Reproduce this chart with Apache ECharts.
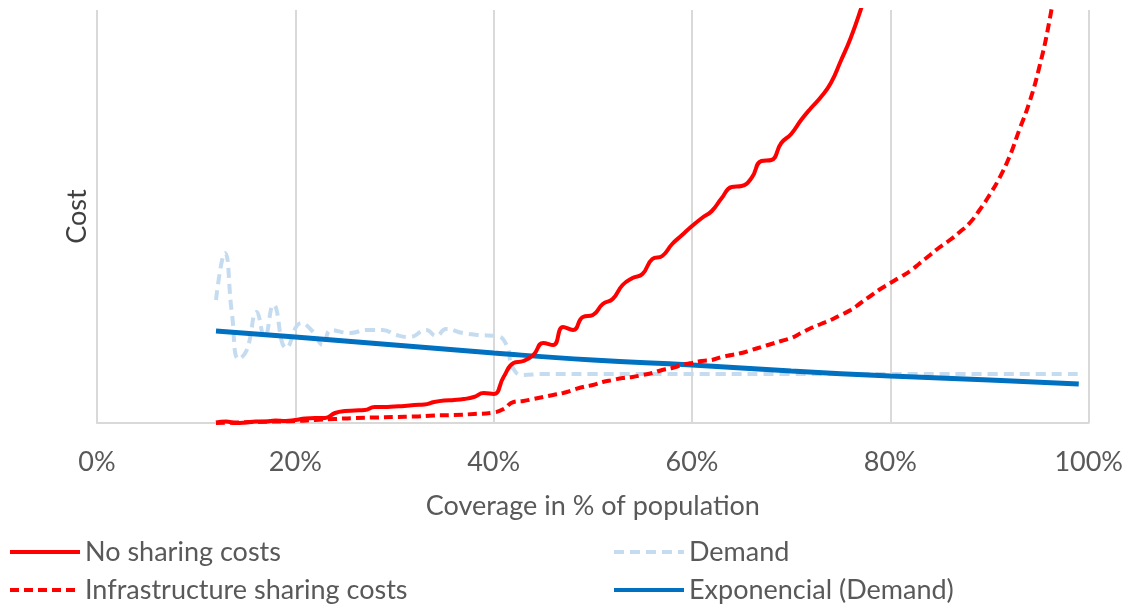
<!DOCTYPE html>
<html>
<head>
<meta charset="utf-8">
<script src="https://cdn.jsdelivr.net/npm/echarts@6/dist/echarts.min.js"></script>
<style>
html,body{margin:0;padding:0;background:#fff;}
#chart{width:1126px;height:604px;}
</style>
</head>
<body>
<div id="chart"></div>
<script>
// Coverage (% of population) and cost values (arbitrary units)
const xTicks = [0, 20, 40, 60, 80, 100];

const noSharingX = [12,13,14,15,16,17,18,19,20,21,22,23,24,25,26,27,28,29,30,31,32,33,34,35,36,37,38,39,40,41,42,43,44,45,46,47,48,49,50,51,52,53,54,55,56,57,58,59,60,61,62,63,64,65,66,67,68,69,70,71,72,73,74,75,76,77,78];
const noSharingY = [0.5,1.5,0,0.5,1.5,1.5,2.5,2,3,4.5,5,5,10,12,12.5,13,16,16,16.5,17,18,18.5,21,22.5,23,24,26,30,29,46,60,62,68,80,78,96,93,106,108,119,124,138,145,149,164,167,179,188,197,205,212,225,236,237,245,262,263,280,289,303,315,326,340,362,385,413,445];

const infraX = [12,14,16,18,20,22,24,26,28,30,32,34,36,38,40,41,42,43,44,45,46,47,48,49,50,51,52,53,54,55,56,57,58,59,60,61,62,63,64,65,66,67,68,69,70,71,72,73,74,75,76,77,78,79,80,81,82,83,84,85,86,87,88,89,90,91,92,93,94,95,96,97];
const infraY = [0,0.5,1,1.5,2,3,4,5,5.5,6,6.5,7.5,8,9,10.5,14,21,22,24,26,28,30,33,36,38,41,43,45,46,48,50,53,55,58,60,62,63,66,68,70,73,76,79,82,85,90,95,99,103,108,113,120,127,134,140,146,152,160,168,176,183,191,200,213,228,245,266,293,320,355,400,460];

const demandX = [12,12.9,13.6,14.3,15.1,16.1,16.9,17.8,19.1,20.6,21.7,22.8,23.6,25.5,27.2,28.8,30.2,31.5,33.2,34.2,35.2,36.9,38.5,40.3,41.3,41.9,42.9,45,50,60,70,80,90,99];
const demandY = [123,170,110,64,73,111,86,118,75,100,92,78,93,90,93,93,88,86,93,87,94,90,88,87,78,56,48,49,49,49,49,49,49,49];

const trendX = [12,20,30,40,50,60,70,80,90,99];
const trendY = [92,86,78,70,63,58,52,47,43,39];

const pairs = (xs, ys) => xs.map((x, i) => [x, ys[i]]);

const chart = echarts.init(document.getElementById('chart'));
const FONT = 'Lato';
const GRAY = '#595959';

const legendBase = {
  orient: 'vertical', top: 538, height: 80, padding: 0, itemWidth: 70, itemHeight: 14, itemGap: 10,
  textStyle: { fontFamily: FONT, fontSize: 27, color: GRAY, lineHeight: 28 },
  itemStyle: { color: 'rgba(0,0,0,0)', borderWidth: 0 },
  lineStyle: { width: 4 }
};

chart.setOption({
  animation: false,
  textStyle: { fontFamily: FONT },
  grid: { left: 97, right: 36, top: 10, bottom: 181, containLabel: false },
  legend: [
    Object.assign({}, legendBase, { left: 8, data: ['No sharing costs', 'Infrastructure sharing costs'] }),
    Object.assign({}, legendBase, { left: 612, data: ['Demand', 'Exponencial (Demand)'] })
  ],
  xAxis: {
    type: 'value', min: xTicks[0], max: xTicks[xTicks.length - 1], interval: 20,
    name: 'Coverage in % of population', nameLocation: 'middle', nameGap: 70,
    nameTextStyle: { fontFamily: FONT, fontSize: 27, color: GRAY },
    axisLine: { show: true, lineStyle: { color: '#d9d9d9', width: 2 } },
    axisTick: { show: false },
    axisLabel: { formatter: '{value}%', fontFamily: FONT, fontSize: 27, color: GRAY, margin: 26 },
    splitLine: { show: true, lineStyle: { color: '#d9d9d9', width: 2 } }
  },
  yAxis: {
    type: 'value', min: 0, max: 413,
    name: 'Cost', nameLocation: 'middle', nameGap: 6, nameRotate: 90,
    nameTextStyle: { fontFamily: FONT, fontSize: 27, color: '#404040' },
    axisLine: { show: false }, axisTick: { show: false }, axisLabel: { show: false },
    splitLine: { show: false }
  },
  series: [
    {
      name: 'Demand', type: 'line', smooth: 0.5, symbol: 'none', z: 2,
      lineStyle: { color: '#c5dcf0', width: 4, type: [10, 6] },
      itemStyle: { color: '#c5dcf0' },
      data: pairs(demandX, demandY)
    },
    {
      name: 'Exponencial (Demand)', type: 'line', smooth: 0.5, symbol: 'none', z: 3,
      lineStyle: { color: '#0070c0', width: 5 },
      itemStyle: { color: '#0070c0' },
      data: pairs(trendX, trendY)
    },
    {
      name: 'No sharing costs', type: 'line', smooth: 0.5, symbol: 'none', z: 4,
      lineStyle: { color: '#ff0000', width: 4 },
      itemStyle: { color: '#ff0000' },
      data: pairs(noSharingX, noSharingY)
    },
    {
      name: 'Infrastructure sharing costs', type: 'line', smooth: 0.5, symbol: 'none', z: 4,
      lineStyle: { color: '#ff0000', width: 4, type: [9, 5] },
      itemStyle: { color: '#ff0000' },
      data: pairs(infraX, infraY)
    }
  ]
});
</script>
</body>
</html>
